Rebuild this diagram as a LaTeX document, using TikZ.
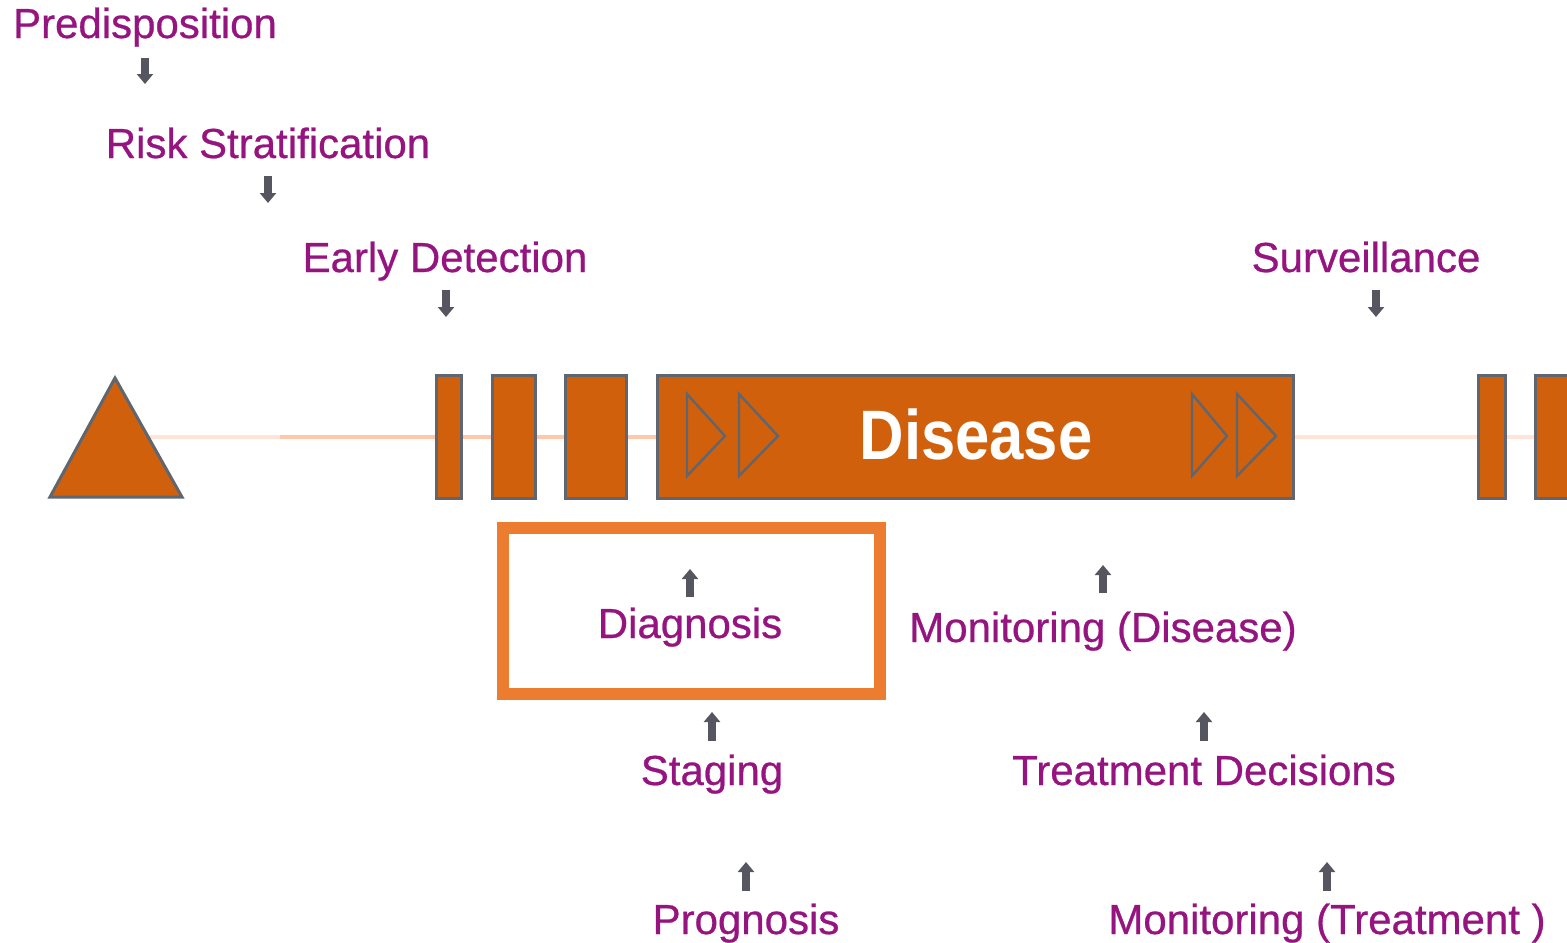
\documentclass[tikz,border=0pt]{standalone}
\usepackage{fontspec}
\setmainfont{Liberation Sans}
\newfontfamily\labfont[FakeBold=0.6]{Liberation Sans}
\usetikzlibrary{arrows.meta}
\definecolor{lbl}{RGB}{150,20,128}
\definecolor{dorange}{RGB}{208,96,12}
\definecolor{edgegray}{RGB}{95,102,112}
\definecolor{hl}{RGB}{236,124,48}
\definecolor{peach}{RGB}{255,200,170}
\definecolor{lpeach}{RGB}{255,228,215}
\definecolor{arr}{RGB}{85,86,95}
\begin{document}
\begin{tikzpicture}[x=0.5pt,y=-0.5pt,
  lab/.style={text=lbl,font=\labfont\fontsize{21}{25}\selectfont,inner sep=0pt,anchor=base},
  blk/.style={fill=dorange,draw=edgegray,line width=1.5pt},
  blockarrow/.style={draw=arr,line width=3.8pt,-{Triangle[width=8pt,length=5pt]}},
  chev/.style={draw=edgegray,line width=1.2pt,line join=miter},
  tline/.style={line width=2pt}]
\useasboundingbox (0,0) rectangle (1567,942);
% timeline
\draw[tline,lpeach] (115,437) -- (280,437);
\draw[tline,peach] (280,437) -- (657,437);
\draw[tline,lpeach] (1293,437) -- (1567,437);
% shapes
\draw[blk] (115,378) -- (182,497) -- (50,497) -- cycle;
\draw[blk] (436,375) rectangle (461,498);
\draw[blk] (492,375) rectangle (535,498);
\draw[blk] (565,375) rectangle (626,498);
\draw[blk] (657,375) rectangle (1293,498);
\draw[blk] (1478,375) rectangle (1505,498);
\draw[blk] (1535,375) rectangle (1580,498);
% chevrons
\draw[chev] (687,394) -- (725,436) -- (687,476) -- cycle;
\draw[chev] (739,394) -- (778,436) -- (739,476) -- cycle;
\draw[chev] (1192,394) -- (1227,436) -- (1192,476) -- cycle;
\draw[chev] (1237,394) -- (1276,436) -- (1237,476) -- cycle;
\node[inner sep=0pt,text=white,font=\bfseries\fontsize{35}{40}\selectfont,anchor=base] (disease) at (976,459) {\scalebox{0.88}[1]{Disease}};
% diagnosis highlight
\draw[hl,line width=6pt] (503,528) rectangle (880,694);
% labels
\node[lab] (pred) at (145,38) {Predisposition};
\node[lab] (risk) at (268,158) {Risk Stratification};
\node[lab] (early) at (445,272) {Early Detection};
\node[lab] (surv) at (1366,272) {Surveillance};
\node[lab] (diag) at (690,638) {Diagnosis};
\node[lab] (mond) at (1103,642) {Monitoring (Disease)};
\node[lab] (stag) at (712,785) {Staging};
\node[lab] (treat) at (1204,785) {Treatment Decisions};
\node[lab] (prog) at (746,934) {Prognosis};
\node[lab] (mont) at (1327,934) {Monitoring (Treatment )};
% arrows
\draw[blockarrow] (145,58) -- (145,84);
\draw[blockarrow] (268,176) -- (268,203);
\draw[blockarrow] (446,290) -- (446,317);
\draw[blockarrow] (1376,290) -- (1376,317);
\draw[blockarrow] (690,597) -- (690,569);
\draw[blockarrow] (1103,593) -- (1103,565);
\draw[blockarrow] (712,741) -- (712,712);
\draw[blockarrow] (1204,741) -- (1204,712);
\draw[blockarrow] (746,891) -- (746,862);
\draw[blockarrow] (1327,891) -- (1327,862);
\end{tikzpicture}
\end{document}
